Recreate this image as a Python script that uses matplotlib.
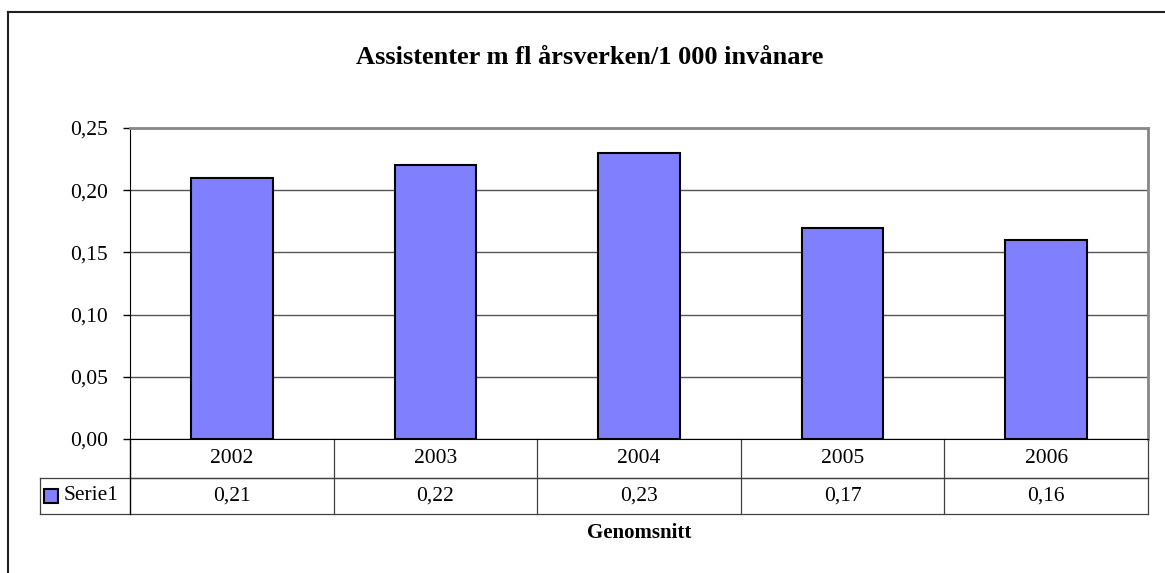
import matplotlib.pyplot as plt
from matplotlib.patches import Rectangle
from matplotlib.lines import Line2D
import matplotlib.transforms as mtransforms

years = ["2002", "2003", "2004", "2005", "2006"]
values = [0.21, 0.22, 0.23, 0.17, 0.16]
value_labels = ["0,21", "0,22", "0,23", "0,17", "0,16"]
yticks = [0.0, 0.05, 0.10, 0.15, 0.20, 0.25]
ytick_labels = ["0,00", "0,05", "0,10", "0,15", "0,20", "0,25"]

plt.rcParams['font.family'] = ['Liberation Serif', 'DejaVu Serif']

W, H = 1165, 573
fig = plt.figure(figsize=(W / 100, H / 100), dpi=100)

# outer chart frame (only left and top visible in the source)
fig.add_artist(Line2D([8 / W, 8 / W], [0, 1 - 12 / H], transform=fig.transFigure, color='#202020', lw=1.5))
fig.add_artist(Line2D([8 / W, 1], [1 - 12 / H, 1 - 12 / H], transform=fig.transFigure, color='#202020', lw=1.5))

ax = fig.add_axes([130 / W, 1 - 439 / H, (1148 - 130) / W, (439 - 128) / H])
x = list(range(len(years)))
ax.bar(x, values, width=0.4, color='#8080FF', edgecolor='black', linewidth=1.5, zorder=3)
ax.set_xlim(-0.5, len(years) - 0.5)
ax.set_ylim(0, 0.25)
ax.set_yticks(yticks)
ax.set_yticklabels(ytick_labels, fontsize=15.5)
ax.set_xticks([])
ax.yaxis.grid(True, color='#555555', lw=1)
ax.set_axisbelow(True)
ax.tick_params(axis='y', direction='out', length=5, width=1, pad=11)
for s in ['top', 'right']:
    ax.spines[s].set_color('#888888')
    ax.spines[s].set_linewidth(2)
ax.spines['left'].set_color('black')
ax.spines['bottom'].set_color('black')

fig.text(590 / W, 1 - 64 / H, 'Assistenter m fl årsverken/1 000 invånare', ha='center', va='baseline',
         fontsize=19, fontweight='bold')

# data table under the plot
tr = mtransforms.blended_transform_factory(ax.transData, ax.transAxes)
r1 = -39 / 311
r2 = -75 / 311
left_col = -0.5 - 90 / 203.6
tcol = '#404040'
n = len(years)
ax.add_line(Line2D([-0.5, n - 0.5], [r1, r1], transform=tr, color=tcol, lw=0.9, clip_on=False))
ax.add_line(Line2D([left_col, n - 0.5], [r1, r1], transform=tr, color=tcol, lw=0.9, clip_on=False))
ax.add_line(Line2D([left_col, n - 0.5], [r2, r2], transform=tr, color=tcol, lw=0.9, clip_on=False))
ax.add_line(Line2D([left_col, left_col], [r1, r2], transform=tr, color=tcol, lw=0.9, clip_on=False))
ax.add_line(Line2D([-0.5, -0.5], [0, r2], transform=tr, color='black', lw=1, clip_on=False))
for i in range(n):
    ax.add_line(Line2D([i + 0.5, i + 0.5], [0, r2], transform=tr, color=tcol, lw=0.9, clip_on=False))
    ax.text(i, (0 + r1) / 2, years[i], transform=tr, ha='center', va='center', fontsize=15.5)
    ax.text(i, (r1 + r2) / 2, value_labels[i], transform=tr, ha='center', va='center', fontsize=15.5)

# legend key inside the table
ax.add_patch(Rectangle((left_col + 4 / 203.6, (r1 + r2) / 2 - 7 / 311), 14 / 203.6, 14 / 311, transform=tr,
                       facecolor='#8080FF', edgecolor='black', lw=1.5, clip_on=False))
ax.text(left_col + 24 / 203.6, (r1 + r2) / 2, 'Serie1', transform=tr, ha='left', va='center', fontsize=15.5)

ax.text(0.5, -94 / 311, 'Genomsnitt', transform=ax.transAxes, ha='center', va='center',
        fontsize=15, fontweight='bold')

fig.savefig('out.png', dpi=100)
